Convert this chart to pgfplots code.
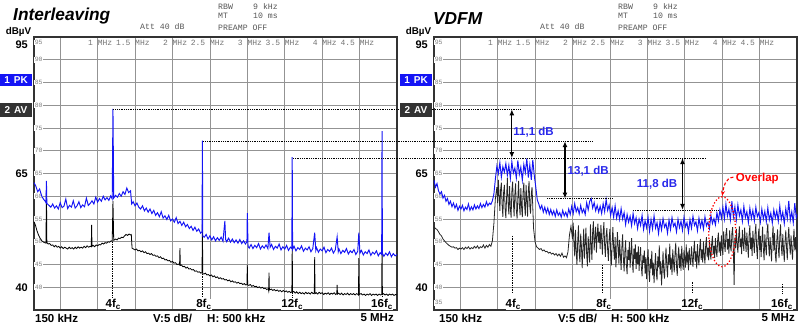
\documentclass[border=0pt]{standalone}
\usepackage{fontspec}
\setmainfont{Liberation Sans}
\newfontfamily\mono{Liberation Mono}
\usepackage{pgfplots}
\pgfplotsset{compat=1.18}
\usetikzlibrary{arrows.meta}
\definecolor{pkblue}{RGB}{20,20,245}
\definecolor{lblblue}{RGB}{40,40,235}
\definecolor{avbox}{RGB}{50,50,50}
\definecolor{hdr}{RGB}{85,85,85}
\pgfplotsset{
  specax/.style={scale only axis, width=363pt, height=273pt,
    xmin=0.15, xmax=5, ymin=35, ymax=95,
    xtick={0.5,1,1.5,2,2.5,3,3.5,4,4.5}, ytick={40,45,50,55,60,65,70,75,80,85,90},
    xticklabels={}, yticklabels={}, major tick length=0pt,
    grid=major, major grid style={draw=gray!85, line width=0.7pt},
    axis line style={draw=black!80, line width=1.3pt},
    clip=false, anchor=south west},
}
\tikzset{
  inlbl/.style={font=\mono\fontsize{6.5}{6.5}\selectfont, text=gray, fill=white, inner sep=0.6pt, anchor=west},
  flbl/.style={font=\mono\fontsize{8}{8}\selectfont, text=gray!90!black, anchor=west, inner sep=0pt},
  hlbl/.style={font=\mono\fontsize{8.2}{8.2}\selectfont, text=hdr, anchor=west, inner sep=0pt},
  blbl/.style={font=\bfseries\fontsize{11.5}{11.5}\selectfont, inner sep=0pt},
  fclbl/.style={font=\bfseries\fontsize{11.5}{11.5}\selectfont, inner sep=0pt, fill=white},
  dline/.style={densely dotted, line width=0.8pt, black},
  vmark/.style={densely dotted, line width=0.7pt, black},
  dbarrow/.style={{Latex[length=6pt,width=5pt]}-{Latex[length=6pt,width=5pt]}, line width=1.3pt, black},
}
\newcommand{\gridlabels}{%
  \pgfplotsinvokeforeach{40,45,50,55,60,65,70,75,80,85,90}{\node[inlbl] at (axis cs:0.15,##1) {##1};}
  \node[inlbl] at (axis cs:0.15,93.8) {95};
  \pgfplotsinvokeforeach{1,1.5,2,2.5,3,3.5,4,4.5}{\node[flbl] at (axis cs:##1,93.8) {\llap{##1\ }MHz};}
}
\begin{document}
\begin{tikzpicture}[x=1pt,y=1pt]
\useasboundingbox (0,0) rectangle (800,327);
%================ LEFT PANEL =================
\begin{axis}[specax, at={(34pt,17pt)}]
\gridlabels
\addplot[black, line width=0.8pt] coordinates {
(0.150,54.4)(0.170,53.6)(0.190,52.4)(0.210,51.5)(0.230,50.8)(0.250,50.3)(0.270,50.0)(0.290,49.8)(0.310,49.7)(0.316,61.4)(0.322,49.8)
(0.340,49.5)(0.360,49.6)(0.380,49.2)(0.400,49.3)(0.420,48.9)(0.440,49.2)(0.460,48.8)(0.480,49.0)(0.500,48.6)(0.520,48.9)(0.540,48.5)
(0.560,48.8)(0.580,48.6)(0.600,48.4)(0.620,48.8)(0.640,48.5)(0.660,48.7)(0.680,48.4)(0.700,48.8)(0.720,48.5)(0.740,48.9)(0.760,48.6)
(0.780,48.8)(0.800,48.6)(0.820,49.0)(0.840,48.7)(0.860,49.1)(0.880,48.8)(0.900,49.0)(0.915,48.9)(0.920,53.7)(0.925,49.0)(0.940,49.2)
(0.960,48.9)(0.980,49.3)(1.000,49.1)(1.020,49.4)(1.040,49.3)(1.060,49.7)(1.080,49.5)(1.100,49.8)(1.120,49.7)(1.140,50.0)(1.160,49.9)
(1.180,50.2)(1.195,50.1)(1.205,59.0)(1.215,50.3)(1.240,50.6)(1.260,50.4)(1.280,50.8)(1.300,50.7)(1.320,51.0)(1.340,50.9)(1.360,51.3)
(1.380,51.6)(1.400,51.4)(1.420,51.7)(1.440,51.5)(1.450,51.6)(1.460,48.6)(1.480,48.4)(1.500,48.2)(1.520,48.4)(1.540,48.0)(1.560,48.1)
(1.580,47.8)(1.600,48.0)(1.620,47.6)(1.640,47.8)(1.660,47.4)(1.680,47.5)(1.700,47.2)(1.720,47.4)(1.740,47.0)(1.760,47.1)(1.780,46.8)
(1.800,46.9)(1.820,46.5)(1.840,46.7)(1.860,46.3)(1.880,46.4)(1.900,46.0)(1.920,46.1)(1.940,45.8)(1.960,45.9)(1.980,45.5)(2.000,45.7)
(2.020,45.3)(2.040,45.4)(2.060,45.0)(2.080,45.1)(2.095,44.9)(2.100,48.6)(2.105,44.8)(2.120,44.9)(2.140,44.5)(2.160,44.6)(2.180,44.2)
(2.200,44.4)(2.220,44.0)(2.240,44.1)(2.260,43.8)(2.280,43.9)(2.300,43.5)(2.320,43.6)(2.340,43.3)(2.360,43.4)(2.380,43.1)(2.395,43.2)
(2.400,54.0)(2.405,43.0)(2.420,42.9)(2.440,43.1)(2.460,42.7)(2.480,42.8)(2.500,42.5)(2.520,42.7)(2.540,42.3)(2.560,42.5)(2.580,42.1)
(2.600,42.3)(2.620,41.9)(2.640,42.1)(2.660,41.8)(2.680,41.9)(2.700,41.6)(2.720,41.7)(2.740,41.4)(2.760,41.6)(2.780,41.2)(2.800,41.4)
(2.820,41.1)(2.840,41.2)(2.860,40.9)(2.880,41.1)(2.900,40.8)(2.920,40.9)(2.940,40.6)(2.960,40.8)(2.980,40.5)(2.995,40.6)(3.000,44.9)
(3.005,40.5)(3.020,40.4)(3.040,40.6)(3.060,40.2)(3.080,40.4)(3.100,40.1)(3.120,40.2)(3.140,39.9)(3.160,40.1)(3.180,39.8)(3.200,40.0)
(3.220,39.7)(3.240,39.8)(3.260,39.5)(3.280,39.7)(3.285,39.3)(3.290,43.2)(3.295,39.4)(3.320,39.6)(3.340,39.3)(3.360,39.5)(3.380,39.2)
(3.400,39.4)(3.420,39.1)(3.440,39.3)(3.460,39.0)(3.480,39.3)(3.500,39.0)(3.520,39.2)(3.540,38.9)(3.560,39.1)(3.580,38.8)(3.595,39.0)
(3.600,49.3)(3.605,38.9)(3.620,39.1)(3.640,38.7)(3.660,39.0)(3.680,38.6)(3.700,38.9)(3.720,38.6)(3.740,38.8)(3.760,38.5)(3.780,38.9)
(3.800,38.6)(3.820,38.8)(3.840,38.5)(3.860,38.9)(3.880,38.6)(3.895,38.7)(3.900,46.6)(3.905,38.6)(3.920,38.8)(3.940,38.5)(3.960,38.9)
(3.980,38.6)(4.000,38.8)(4.020,38.4)(4.040,38.7)(4.060,38.5)(4.080,38.8)(4.100,38.4)(4.120,38.7)(4.140,38.5)(4.160,38.8)(4.180,38.4)
(4.195,38.6)(4.200,40.5)(4.205,38.5)(4.220,38.7)(4.240,38.4)(4.260,38.7)(4.280,38.3)(4.300,38.6)(4.320,38.4)(4.340,38.7)(4.360,38.3)
(4.380,38.6)(4.400,38.4)(4.420,38.6)(4.440,38.3)(4.460,38.6)(4.480,38.4)(4.485,38.3)(4.490,46.4)(4.495,38.4)(4.520,38.6)(4.540,38.3)
(4.560,38.5)(4.580,38.2)(4.600,38.5)(4.620,38.3)(4.640,38.6)(4.660,38.2)(4.680,38.5)(4.700,38.3)(4.720,38.5)(4.740,38.2)(4.760,38.5)
(4.780,38.3)(4.795,38.4)(4.800,49.3)(4.805,38.4)(4.820,38.6)(4.840,38.3)(4.860,38.5)(4.880,38.2)(4.900,38.5)(4.920,38.3)(4.940,38.5)
(4.960,38.2)(4.980,38.4)(5.000,38.3)};
\addplot[pkblue, line width=0.95pt] coordinates {
(0.150,63.0)(0.175,62.2)(0.200,61.0)(0.225,61.6)(0.250,60.2)(0.275,59.4)(0.300,58.9)(0.310,58.6)(0.316,63.4)(0.322,58.4)(0.350,58.0)
(0.375,57.6)(0.400,58.3)(0.425,57.4)(0.450,57.9)(0.475,57.2)(0.500,58.6)(0.525,57.5)(0.550,57.8)(0.575,59.4)(0.600,57.3)(0.625,58.0)
(0.650,57.6)(0.675,59.0)(0.700,57.4)(0.725,57.9)(0.750,58.8)(0.775,57.5)(0.800,58.1)(0.825,57.7)(0.850,59.6)(0.875,58.0)(0.900,58.4)
(0.925,59.0)(0.950,58.3)(0.975,59.8)(1.000,58.7)(1.025,59.5)(1.050,58.9)(1.075,60.0)(1.100,59.2)(1.125,59.7)(1.150,59.1)(1.175,60.1)
(1.195,59.4)(1.205,79.2)(1.215,59.6)(1.240,60.2)(1.265,59.8)(1.290,60.6)(1.315,60.0)(1.340,61.0)(1.365,60.4)(1.390,61.8)(1.415,60.8)
(1.440,61.2)(1.455,58.3)(1.475,58.8)(1.500,57.9)(1.525,58.5)(1.550,57.6)(1.575,57.2)(1.600,57.9)(1.625,56.8)(1.650,57.4)(1.675,56.5)
(1.700,57.2)(1.725,56.2)(1.750,56.9)(1.775,55.8)(1.800,56.4)(1.825,55.5)(1.850,56.6)(1.875,55.2)(1.900,55.7)(1.925,54.9)(1.950,55.8)
(1.975,54.6)(2.000,55.0)(2.025,54.3)(2.050,55.3)(2.075,54.0)(2.100,54.5)(2.125,53.6)(2.150,54.3)(2.175,53.3)(2.200,53.8)(2.225,52.9)
(2.250,53.4)(2.275,52.5)(2.300,53.2)(2.325,52.3)(2.350,52.8)(2.375,51.9)(2.395,52.2)(2.400,72.2)(2.405,51.2)(2.425,51.0)(2.450,51.6)
(2.475,50.6)(2.500,51.3)(2.525,50.4)(2.550,51.1)(2.575,50.2)(2.600,50.9)(2.625,50.3)(2.650,51.0)(2.675,50.1)(2.700,54.6)(2.710,50.5)
(2.725,50.0)(2.750,50.8)(2.775,49.9)(2.800,50.6)(2.825,49.8)(2.850,50.4)(2.875,49.7)(2.900,50.5)(2.925,49.6)(2.950,50.2)(2.975,49.5)
(2.995,50.0)(3.000,56.3)(3.010,49.0)(3.025,48.6)(3.050,49.4)(3.075,48.5)(3.100,49.2)(3.125,48.7)(3.150,49.6)(3.175,48.4)(3.200,49.1)
(3.225,48.6)(3.250,49.3)(3.275,48.5)(3.290,52.0)(3.305,48.8)(3.325,49.4)(3.350,48.3)(3.375,49.0)(3.400,48.6)(3.425,49.5)(3.450,48.2)
(3.475,48.9)(3.500,48.4)(3.525,49.2)(3.550,48.1)(3.575,48.8)(3.595,48.5)(3.600,68.6)(3.605,48.3)(3.625,49.0)(3.650,48.0)(3.675,48.7)
(3.700,48.3)(3.725,49.1)(3.750,47.9)(3.775,48.6)(3.800,48.2)(3.825,48.9)(3.850,47.8)(3.875,48.5)(3.900,52.0)(3.915,48.1)(3.925,48.7)
(3.950,47.7)(3.975,48.4)(4.000,48.0)(4.025,48.8)(4.050,47.6)(4.075,48.3)(4.100,47.9)(4.125,48.6)(4.150,47.5)(4.175,48.2)(4.200,51.1)
(4.215,47.8)(4.225,48.4)(4.250,47.4)(4.275,48.1)(4.300,47.7)(4.325,48.5)(4.350,47.3)(4.375,48.0)(4.400,47.6)(4.425,48.3)(4.450,47.2)
(4.475,47.9)(4.490,52.0)(4.505,47.5)(4.525,48.1)(4.550,47.1)(4.575,47.8)(4.600,47.4)(4.625,48.2)(4.650,47.0)(4.675,47.7)(4.700,47.3)
(4.725,48.0)(4.750,46.9)(4.775,47.6)(4.795,47.2)(4.800,74.3)(4.805,47.5)(4.825,46.8)(4.850,47.5)(4.875,47.0)(4.900,47.8)(4.925,46.7)
(4.950,47.4)(4.975,46.9)(5.000,47.2)};
% reference lines
\draw[dline] (axis cs:1.21,79.1) -- (axis cs:5.04,79.1);
\draw[dline] (axis cs:2.41,72.1) -- (axis cs:5.04,72.1);
\draw[dline] (axis cs:3.61,68.4) -- (axis cs:5.04,68.4);
% harmonic markers
\draw[vmark] (axis cs:1.2,49.9) -- (axis cs:1.2,37.9);
\draw[vmark] (axis cs:2.4,42.9) -- (axis cs:2.4,37.9);
\draw[vmark] (axis cs:3.6,39.8) -- (axis cs:3.6,37.9);
\draw[vmark] (axis cs:4.8,38.9) -- (axis cs:4.8,37.9);
\node[fclbl] at (axis cs:1.21,36.2) {4f\textsubscript{c}};
\node[fclbl] at (axis cs:2.42,36.2) {8f\textsubscript{c}};
\node[fclbl] at (axis cs:3.6,36.2) {12f\textsubscript{c}};
\node[fclbl] at (axis cs:4.8,36.2) {16f\textsubscript{c}};
\end{axis}
%================ RIGHT PANEL =================
\begin{axis}[specax, at={(434pt,17pt)}]
\gridlabels
\node[inlbl] at (axis cs:0.15,36.6) {35};
\addplot[pkblue, line width=0.95pt] coordinates {
(0.15,63.5)(0.17,62.0)(0.19,62.8)(0.21,61.2)(0.23,60.5)(0.25,61.0)(0.27,59.6)(0.29,60.2)(0.31,58.9)(0.33,59.5)(0.35,58.2)(0.37,58.9)
(0.39,57.7)(0.41,58.5)(0.43,57.4)(0.45,58.2)(0.47,56.9)(0.49,57.8)(0.51,57.2)(0.53,58.0)(0.55,56.8)(0.57,57.6)(0.59,57.1)(0.61,58.3)
(0.63,56.9)(0.65,57.7)(0.67,57.0)(0.69,58.1)(0.71,57.2)(0.73,57.9)(0.75,57.3)(0.77,58.4)(0.79,57.5)(0.81,58.2)(0.83,57.6)(0.85,58.8)
(0.87,57.9)(0.89,58.5)(0.91,58.2)(0.93,59.0)(0.95,60.5)(0.97,63.8)(0.99,66.6)(1.01,65.0)(1.03,67.4)(1.05,64.2)(1.07,66.5)(1.09,65.3)
(1.11,67.2)(1.13,64.6)(1.15,66.8)(1.17,63.9)(1.19,67.6)(1.21,65.1)(1.23,66.2)(1.25,64.0)(1.27,67.9)(1.29,64.8)(1.31,66.4)(1.33,63.5)
(1.35,67.0)(1.37,65.2)(1.39,68.3)(1.41,64.1)(1.43,66.9)(1.45,63.6)(1.47,68.0)(1.49,64.5)(1.51,62.0)(1.53,59.2)(1.55,58.3)(1.57,57.2)
(1.59,58.0)(1.61,56.5)(1.63,57.6)(1.65,56.3)(1.67,57.4)(1.69,56.0)(1.71,57.1)(1.73,55.9)(1.75,56.8)(1.77,55.6)(1.79,57.0)(1.81,55.8)
(1.83,56.4)(1.85,55.4)(1.87,56.9)(1.89,55.7)(1.91,56.5)(1.93,55.5)(1.95,57.2)(1.97,56.0)(1.99,57.8)(2.01,56.2)(2.03,58.4)(2.05,56.6)
(2.07,57.5)(2.09,56.1)(2.11,58.0)(2.13,56.4)(2.15,57.2)(2.17,56.0)(2.19,58.6)(2.21,57.0)(2.23,58.9)(2.25,59.5)(2.27,57.4)(2.29,58.6)
(2.31,56.8)(2.33,58.0)(2.35,56.5)(2.37,57.8)(2.39,56.2)(2.41,58.4)(2.43,56.6)(2.45,59.3)(2.47,56.9)(2.49,58.1)(2.51,55.8)(2.53,57.5)
(2.55,55.4)(2.57,57.9)(2.59,55.2)(2.61,56.8)(2.63,54.9)(2.65,57.3)(2.67,55.0)(2.69,56.4)(2.71,53.8)(2.73,56.0)(2.75,54.3)(2.77,55.6)
(2.79,53.5)(2.81,56.2)(2.83,54.0)(2.85,55.3)(2.87,52.9)(2.89,55.0)(2.91,53.6)(2.93,55.8)(2.95,52.7)(2.97,54.6)(2.99,53.1)(3.01,55.4)
(3.03,52.3)(3.05,54.9)(3.07,52.8)(3.09,55.7)(3.11,53.0)(3.13,54.2)(3.15,51.8)(3.17,54.6)(3.19,52.6)(3.21,55.1)(3.23,53.2)(3.25,54.0)
(3.27,51.9)(3.29,54.8)(3.31,52.7)(3.33,55.3)(3.35,53.4)(3.37,54.1)(3.39,52.2)(3.41,55.0)(3.43,53.1)(3.45,54.5)(3.47,52.5)(3.49,55.4)
(3.51,53.3)(3.53,54.2)(3.55,52.1)(3.57,54.9)(3.59,53.0)(3.61,55.6)(3.63,53.6)(3.65,54.4)(3.67,52.4)(3.69,55.2)(3.71,53.2)(3.73,54.7)
(3.75,52.8)(3.77,55.5)(3.79,53.5)(3.81,54.3)(3.83,52.9)(3.85,55.8)(3.87,54.0)(3.89,55.1)(3.91,53.7)(3.93,56.4)(3.95,54.6)(3.97,57.0)
(3.99,55.2)(4.01,57.6)(4.03,55.0)(4.05,58.3)(4.07,55.6)(4.09,57.2)(4.11,54.8)(4.13,58.9)(4.15,55.4)(4.17,57.7)(4.19,54.9)(4.21,58.1)
(4.23,55.7)(4.25,57.0)(4.27,54.5)(4.29,57.8)(4.31,55.3)(4.33,56.6)(4.35,54.2)(4.37,57.4)(4.39,55.1)(4.41,56.9)(4.43,54.6)(4.45,57.6)
(4.47,55.5)(4.49,56.4)(4.51,54.3)(4.53,57.2)(4.55,55.0)(4.57,56.7)(4.59,54.4)(4.61,57.5)(4.63,54.8)(4.65,56.3)(4.67,54.1)(4.69,57.0)
(4.71,55.2)(4.73,56.8)(4.75,54.5)(4.77,57.9)(4.79,54.9)(4.81,56.5)(4.83,54.0)(4.85,57.3)(4.87,55.1)(4.89,59.0)(4.91,54.7)(4.93,56.6)
(4.95,54.2)(4.97,58.5)(4.99,55.3)(5.00,56.0)};
\addplot[black!85, line width=0.8pt] coordinates {
(0.15,53.3)(0.17,52.9)(0.19,52.7)(0.21,52.2)(0.23,51.6)(0.25,51.3)(0.27,50.6)(0.29,50.2)(0.31,49.8)(0.33,49.5)(0.35,49.2)(0.37,49.0)
(0.39,48.8)(0.41,48.9)(0.43,48.6)(0.45,48.7)(0.47,48.3)(0.49,48.6)(0.51,48.4)(0.53,48.7)(0.55,48.3)(0.57,48.8)(0.59,48.5)(0.61,48.9)
(0.63,48.4)(0.65,48.7)(0.67,48.5)(0.69,49.0)(0.71,48.6)(0.73,49.1)(0.75,48.5)(0.77,48.9)(0.79,48.7)(0.81,49.3)(0.83,48.6)(0.85,49.2)
(0.87,48.8)(0.89,49.4)(0.91,49.0)(0.93,50.2)(0.95,54.0)(0.97,59.5)(0.99,62.0)(1.00,58.5)(1.01,63.6)(1.02,60.2)(1.03,56.8)(1.04,61.5)
(1.05,63.0)(1.06,58.0)(1.07,55.5)(1.08,60.8)(1.09,62.5)(1.10,57.2)(1.11,55.2)(1.12,59.8)(1.13,64.0)(1.14,58.6)(1.15,56.0)(1.16,62.2)
(1.17,57.4)(1.18,55.3)(1.19,61.0)(1.20,63.2)(1.21,58.9)(1.22,55.6)(1.23,60.4)(1.24,62.8)(1.25,57.0)(1.26,55.1)(1.27,59.6)(1.28,63.4)
(1.29,58.3)(1.30,55.8)(1.31,61.8)(1.32,57.6)(1.33,55.4)(1.34,60.9)(1.35,63.0)(1.36,58.1)(1.37,55.7)(1.38,62.5)(1.39,59.2)(1.40,55.5)
(1.41,61.2)(1.42,63.3)(1.43,57.8)(1.44,56.2)(1.45,60.6)(1.46,62.0)(1.47,57.5)(1.48,53.0)(1.50,50.0)(1.52,48.9)(1.54,48.6)(1.56,48.3)
(1.58,48.5)(1.60,48.0)(1.62,48.2)(1.64,47.8)(1.66,47.9)(1.68,47.5)(1.70,47.7)(1.72,47.3)(1.74,47.5)(1.76,47.1)(1.78,47.4)(1.80,46.9)
(1.82,47.3)(1.84,46.8)(1.86,47.5)(1.88,46.6)(1.90,46.9)(1.92,46.5)(1.94,47.8)(1.96,51.5)(1.98,53.4)(2.00,50.6)(2.01,54.2)(2.02,49.5)
(2.03,46.8)(2.04,52.6)(2.05,48.0)(2.06,44.9)(2.07,50.2)(2.08,53.6)(2.09,47.4)(2.10,45.5)(2.11,51.8)(2.12,49.0)(2.13,44.2)(2.14,48.6)
(2.15,52.9)(2.16,46.3)(2.17,49.7)(2.18,53.1)(2.19,47.0)(2.20,44.6)(2.21,51.2)(2.22,48.3)(2.23,45.4)(2.24,53.8)(2.25,49.2)(2.26,46.0)
(2.27,52.4)(2.28,54.5)(2.29,48.1)(2.30,50.9)(2.31,53.3)(2.32,47.6)(2.33,51.4)(2.34,54.0)(2.35,49.8)(2.36,52.2)(2.37,48.4)(2.38,53.7)
(2.39,50.5)(2.40,47.2)(2.41,52.0)(2.42,54.3)(2.43,49.1)(2.44,46.7)(2.45,51.5)(2.46,53.0)(2.47,48.2)(2.48,45.8)(2.49,50.6)(2.50,52.8)
(2.51,47.9)(2.52,44.8)(2.53,49.6)(2.54,53.2)(2.55,48.6)(2.56,46.1)(2.57,51.0)(2.58,44.4)(2.59,47.5)(2.60,52.1)(2.61,49.3)(2.62,45.2)
(2.63,50.4)(2.64,47.1)(2.65,43.8)(2.66,48.9)(2.67,51.6)(2.68,46.4)(2.69,43.5)(2.70,47.8)(2.71,50.3)(2.72,45.0)(2.73,42.9)(2.74,48.2)
(2.75,46.0)(2.76,49.9)(2.77,44.3)(2.78,47.3)(2.79,50.8)(2.80,45.6)(2.81,43.2)(2.82,48.5)(2.83,46.2)(2.84,49.4)(2.85,44.0)(2.86,47.7)
(2.87,45.1)(2.88,49.0)(2.89,43.6)(2.90,46.9)(2.91,48.8)(2.92,44.5)(2.93,42.4)(2.94,47.0)(2.95,45.3)(2.96,48.1)(2.97,43.0)(2.98,46.6)
(2.99,41.8)(3.00,45.9)(3.01,48.4)(3.02,43.7)(3.03,41.2)(3.04,46.3)(3.05,44.1)(3.06,48.0)(3.07,42.6)(3.08,45.4)(3.09,40.9)(3.10,44.8)
(3.11,47.5)(3.12,43.1)(3.13,41.5)(3.14,46.8)(3.15,44.4)(3.16,49.2)(3.17,42.8)(3.18,45.7)(3.19,40.4)(3.20,44.0)(3.21,47.9)(3.22,43.4)
(3.23,41.9)(3.24,46.1)(3.25,48.7)(3.26,44.6)(3.27,42.2)(3.28,47.2)(3.29,45.0)(3.30,49.6)(3.31,43.9)(3.32,46.5)(3.33,42.7)(3.34,48.3)
(3.35,45.5)(3.36,43.3)(3.37,47.6)(3.38,49.8)(3.39,44.7)(3.40,42.5)(3.41,46.9)(3.42,48.9)(3.43,44.2)(3.44,47.4)(3.45,43.6)(3.46,49.1)
(3.47,45.8)(3.48,43.8)(3.49,48.2)(3.50,46.4)(3.51,44.3)(3.52,49.4)(3.53,45.2)(3.54,47.8)(3.55,43.7)(3.56,48.6)(3.57,46.0)(3.58,44.9)
(3.59,49.0)(3.60,46.7)(3.61,44.5)(3.62,48.0)(3.63,50.2)(3.64,45.6)(3.65,47.9)(3.66,44.1)(3.67,49.5)(3.68,46.3)(3.69,44.8)(3.70,48.8)
(3.71,50.6)(3.72,46.0)(3.73,48.4)(3.74,45.4)(3.75,50.1)(3.76,47.0)(3.77,45.2)(3.78,49.3)(3.79,51.0)(3.80,46.6)(3.81,48.7)(3.82,45.9)
(3.83,50.4)(3.84,47.5)(3.85,46.1)(3.86,49.7)(3.87,51.3)(3.88,47.2)(3.89,49.1)(3.90,46.4)(3.91,50.8)(3.92,48.0)(3.93,46.7)(3.94,50.5)
(3.95,52.0)(3.96,47.6)(3.97,49.9)(3.98,46.9)(3.99,51.4)(4.00,48.5)(4.01,47.1)(4.02,52.3)(4.03,49.4)(4.04,47.8)(4.05,51.7)(4.06,53.0)
(4.07,48.3)(4.08,50.6)(4.09,47.4)(4.10,52.5)(4.11,49.0)(4.12,47.9)(4.13,51.9)(4.14,53.2)(4.15,48.1)(4.155,44.0)(4.16,40.5)(4.165,46.0)
(4.17,50.9)(4.18,48.6)(4.19,52.8)(4.20,49.5)(4.21,47.6)(4.22,51.1)(4.23,53.4)(4.24,48.8)(4.25,50.7)(4.26,47.3)(4.27,52.6)(4.28,49.7)
(4.29,48.0)(4.30,53.1)(4.31,50.2)(4.32,47.8)(4.33,52.0)(4.34,49.3)(4.35,46.5)(4.36,51.5)(4.37,53.6)(4.38,48.4)(4.39,50.9)(4.40,46.9)
(4.41,52.4)(4.42,49.8)(4.43,47.5)(4.44,51.8)(4.45,53.9)(4.46,48.9)(4.47,46.2)(4.48,50.5)(4.49,52.9)(4.50,48.2)(4.51,51.3)(4.52,46.6)
(4.53,50.0)(4.54,53.3)(4.55,48.6)(4.56,45.9)(4.57,51.6)(4.58,49.1)(4.59,47.0)(4.60,52.2)(4.61,54.0)(4.62,49.4)(4.63,46.8)(4.64,51.0)
(4.65,48.5)(4.66,45.7)(4.67,50.8)(4.68,53.5)(4.69,48.0)(4.70,51.9)(4.71,47.3)(4.72,45.4)(4.73,50.3)(4.74,52.7)(4.75,48.7)(4.76,46.4)
(4.77,51.2)(4.78,53.8)(4.79,49.0)(4.80,46.9)(4.81,51.7)(4.82,48.3)(4.83,45.6)(4.84,50.1)(4.85,52.5)(4.86,48.8)(4.87,46.0)(4.88,50.7)
(4.89,53.2)(4.90,49.6)(4.91,47.2)(4.92,51.4)(4.93,48.5)(4.94,46.1)(4.95,50.0)(4.96,52.8)(4.97,48.1)(4.98,51.0)(4.99,47.7)(5.00,50.3)};
% reference lines continued from the left panel
\draw[dline] (axis cs:-0.29,79.1) -- (axis cs:1.31,79.1);
\draw[dline] (axis cs:-0.29,72.1) -- (axis cs:2.28,72.1);
\draw[dline] (axis cs:-0.29,68.4) -- (axis cs:3.79,68.4);
\draw[dline] (axis cs:1.66,59.5) -- (axis cs:2.53,59.5);
\draw[dline] (axis cs:2.81,57.0) -- (axis cs:3.95,57.0);
\draw[dbarrow] (axis cs:1.19,79.1) -- (axis cs:1.19,68.4);
\draw[dbarrow] (axis cs:1.90,72.1) -- (axis cs:1.90,59.5);
\draw[dbarrow] (axis cs:3.47,68.4) -- (axis cs:3.47,57.0);
\node[font=\bfseries\fontsize{11.5}{11.5}\selectfont, text=lblblue] at (axis cs:1.48,74.0) {11,1 dB};
\node[font=\bfseries\fontsize{11.5}{11.5}\selectfont, text=lblblue] at (axis cs:2.21,65.4) {13,1 dB};
\node[font=\bfseries\fontsize{11.5}{11.5}\selectfont, text=lblblue] at (axis cs:3.13,62.6) {11,8 dB};
\node[font=\bfseries\fontsize{11.5}{11.5}\selectfont, text=red] at (axis cs:4.47,64.0) {Overlap};
\draw[red, dotted, line width=1.3pt] (axis cs:4.0,52.2) ellipse [x radius=13.5pt, y radius=35pt];
\draw[red, densely dashed, line width=1.1pt, -{Stealth[length=5pt,width=4pt]}] (axis cs:4.15,64.2) to[out=185,in=80] (axis cs:4.0,60.1);
% harmonic markers
\draw[vmark] (axis cs:1.2,51.3) -- (axis cs:1.2,38.7);
\draw[vmark] (axis cs:2.4,44.9) -- (axis cs:2.4,38.7);
\draw[vmark] (axis cs:3.6,41.2) -- (axis cs:3.6,38.7);
\draw[vmark] (axis cs:4.8,40.7) -- (axis cs:4.8,38.7);
\node[fclbl] at (axis cs:1.21,36.2) {4f\textsubscript{c}};
\node[fclbl] at (axis cs:2.42,36.2) {8f\textsubscript{c}};
\node[fclbl] at (axis cs:3.6,36.2) {12f\textsubscript{c}};
\node[fclbl] at (axis cs:4.8,36.2) {16f\textsubscript{c}};
\end{axis}
%================ FRAME TEXTS =================
\node[anchor=base west, inner sep=0pt, font=\bfseries\itshape\fontsize{17.3}{17.3}\selectfont] at (13,306.3) {Interleaving};
\node[anchor=base west, inner sep=0pt, font=\bfseries\itshape\fontsize{17.3}{17.3}\selectfont] at (433,302) {VDFM};
\foreach \dx in {0,400}{
  \node[hlbl] at (\dx+140,300) {Att 40 dB};
  \node[hlbl] at (\dx+218,320.3) {RBW};
  \node[hlbl] at (\dx+253,320.3) {9 kHz};
  \node[hlbl] at (\dx+218,311.3) {MT};
  \node[hlbl] at (\dx+253,311.3) {10 ms};
  \node[hlbl] at (\dx+218,299.7) {PREAMP OFF};
  \node[font=\bfseries\fontsize{9.8}{9.8}\selectfont, inner sep=0pt] at (\dx+18.5,295) {dBµV};
  \node[anchor=east, font=\bfseries\fontsize{11}{11}\selectfont, inner sep=0pt] at (\dx+28,282.5) {95};
  \node[anchor=east, font=\bfseries\fontsize{11}{11}\selectfont, inner sep=0pt] at (\dx+28,153) {65};
  \node[anchor=east, font=\bfseries\fontsize{11}{11}\selectfont, inner sep=0pt] at (\dx+28,39) {40};
  \fill[pkblue] (\dx+0,241) rectangle (\dx+32,253);
  \node[text=white, font=\bfseries\fontsize{10}{10}\selectfont, inner sep=0pt] at (\dx+16,247) {1\hspace{4pt}PK};
  \fill[avbox] (\dx+0,209.5) rectangle (\dx+32,224);
  \node[text=white, font=\bfseries\fontsize{10}{10}\selectfont, inner sep=0pt] at (\dx+16,216.7) {2\hspace{4pt}AV};
}
\node[blbl, anchor=west] at (35,9) {150 kHz};
\node[blbl, anchor=west] at (153,9) {V:5 dB/};
\node[blbl, anchor=west] at (207,9) {H: 500 kHz};
\node[blbl, anchor=east] at (394,9) {5 MHz};
\node[blbl, anchor=west] at (439,9) {150 kHz};
\node[blbl, anchor=west] at (558,9) {V:5 dB/};
\node[blbl, anchor=west] at (611,9) {H: 500 kHz};
\node[blbl, anchor=east] at (795,9) {5 MHz};
\end{tikzpicture}
\end{document}
